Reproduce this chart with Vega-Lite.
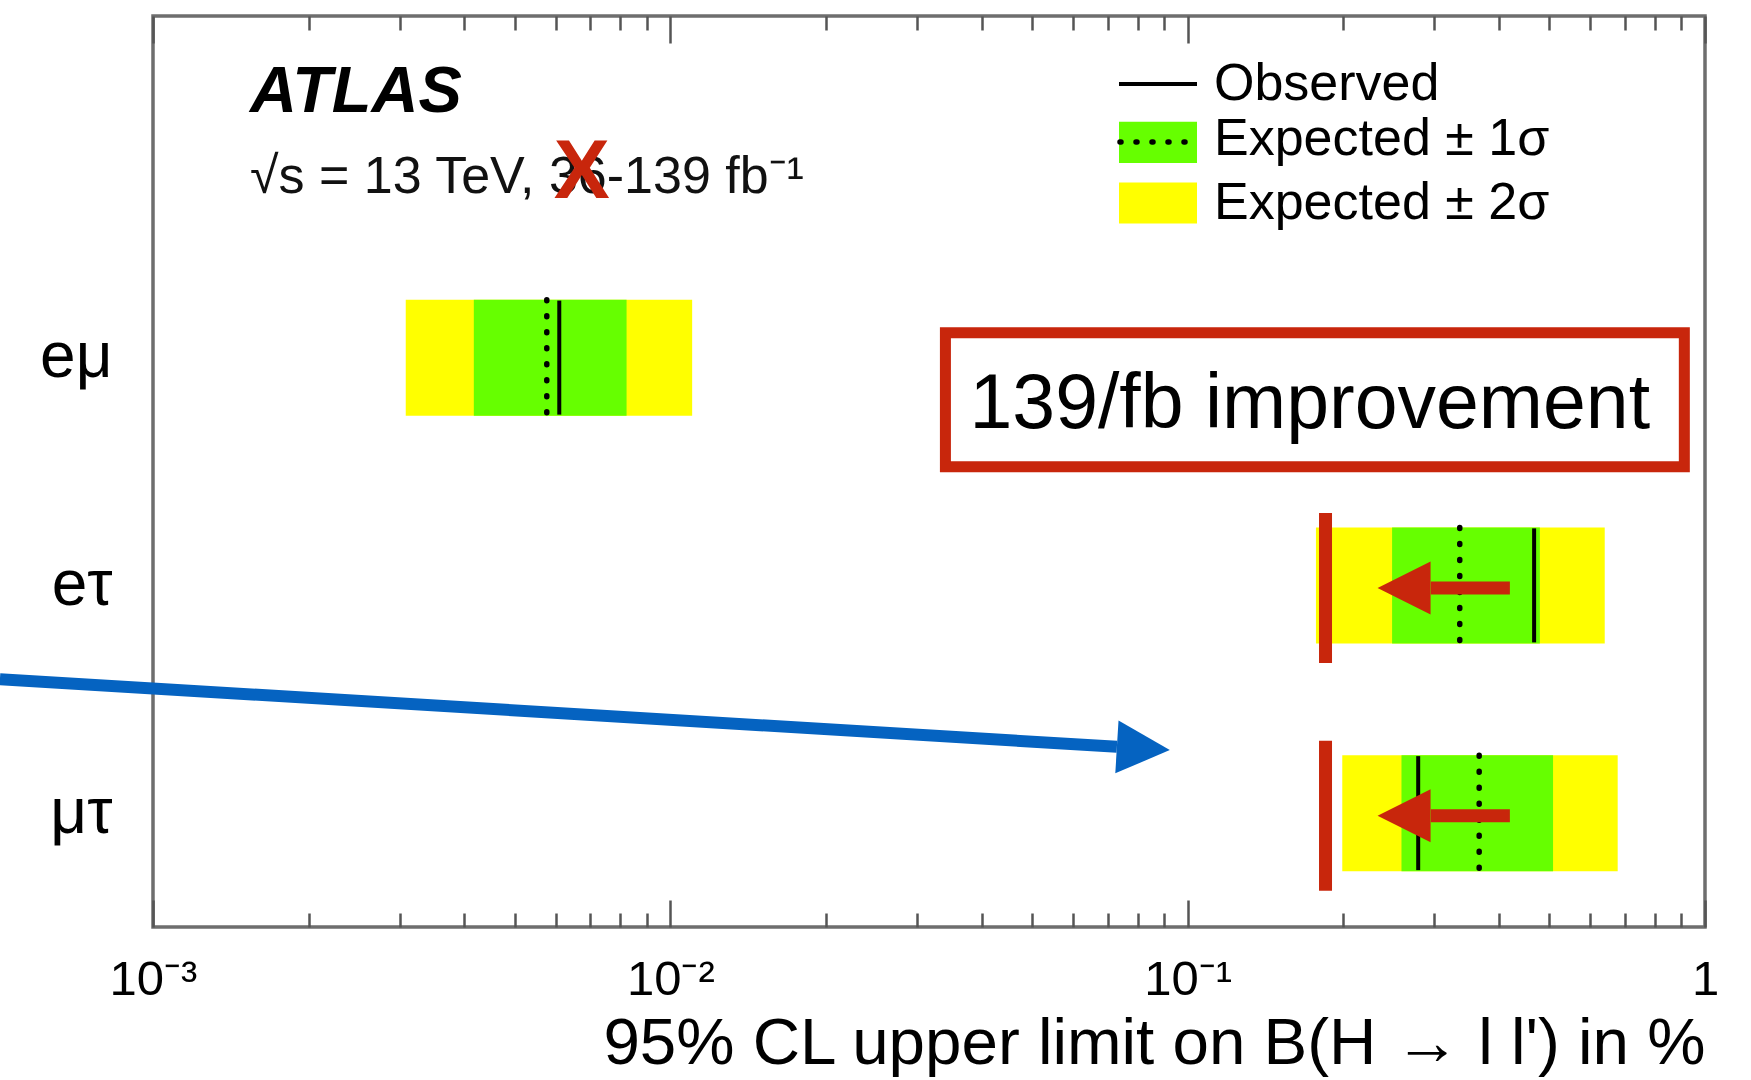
{
  "$schema": "https://vega.github.io/schema/vega-lite/v6.json",
  "width": 1552,
  "height": 911,
  "autosize": {"type": "none"},
  "padding": {"left": 153, "top": 16, "right": 46, "bottom": 153},
  "background": "white",
  "config": {
    "view": {"stroke": "#6e6e6e", "strokeWidth": 3.5},
    "font": "Liberation Sans",
    "axis": {"grid": false, "domain": false}
  },
  "resolve": {"axis": {"x": "independent", "y": "independent"}},
  "datasets": {
    "limits": [
      {"channel": "eμ", "pos": 2.5, "m2": 0.00308, "m1": 0.00417, "exp": 0.00577, "p1": 0.00823, "p2": 0.01102, "obs": 0.0061},
      {"channel": "eτ", "pos": 1.5, "m2": 0.177, "m1": 0.2484, "exp": 0.3357, "p1": 0.4795, "p2": 0.64, "obs": 0.4674},
      {"channel": "μτ", "pos": 0.5, "m2": 0.199, "m1": 0.259, "exp": 0.366, "p1": 0.5085, "p2": 0.678, "obs": 0.279}
    ],
    "improve": [
      {"channel": "eτ", "pos": 1.5, "projected": 0.1847, "arrowFrom": 0.4196, "arrowTo": 0.2951, "head": 0.262},
      {"channel": "μτ", "pos": 0.5, "projected": 0.1847, "arrowFrom": 0.4196, "arrowTo": 0.2951, "head": 0.262}
    ]
  },
  "layer": [
    {
      "data": {"name": "limits"},
      "mark": {"type": "rect", "yOffset": -58, "y2Offset": 58},
      "encoding": {
        "x": {
          "field": "m2", "type": "quantitative",
          "scale": {"type": "log", "domain": [0.001, 1], "nice": false, "zero": false},
          "axis": {
            "orient": "bottom",
            "values": [0.001,0.002,0.003,0.004,0.005,0.006,0.007,0.008,0.009,0.01,0.02,0.03,0.04,0.05,0.06,0.07,0.08,0.09,0.1,0.2,0.3,0.4,0.5,0.6,0.7,0.8,0.9,1],
            "labelExpr": "datum.value === 0.001 ? '10⁻³' : datum.value === 0.01 ? '10⁻²' : datum.value === 0.1 ? '10⁻¹' : datum.value === 1 ? '1' : ''",
            "labelFlush": false,
            "labelOverlap": false,
            "labelFontSize": 49,
            "labelColor": "black",
            "labelPadding": 55,
            "labelBaseline": "top",
            "tickSize": -27,
            "tickColor": "#555555",
            "tickWidth": 2.5,
            "tickDash": {"condition": {"test": "datum.value === 0.001 || datum.value === 0.01 || datum.value === 0.1 || datum.value === 1", "value": [40, 1]}, "value": [14, 40]},
            "domain": false,
            "grid": false,
            "title": "95% CL upper limit on B(H → l l') in %",
            "titleFontSize": 65.5,
            "titleFontWeight": "normal",
            "titleColor": "black",
            "titleX": 1552,
            "titleY": 136,
            "titleAlign": "right",
            "titleBaseline": "alphabetic",
            "titleAnchor": "end"
          }
        },
        "x2": {"field": "p2"},
        "y": {
          "field": "pos", "type": "quantitative",
          "scale": {"domain": [0, 4], "nice": false, "zero": false},
          "axis": {
            "orient": "left",
            "values": [0.5, 1.5, 2.5],
            "labelExpr": "datum.value > 2 ? 'eμ' : (datum.value > 1 ? 'eτ' : 'μτ')",
            "ticks": false, "domain": false, "grid": false, "title": null,
            "labelFontSize": 64, "labelColor": "black", "labelPadding": 41,
            "labelAlign": "right", "labelBaseline": "middle", "labelOverlap": false, "labelLimit": 0
          }
        },
        "y2": {"field": "pos"},
        "fill": {
          "datum": "Expected ± 2σ", "type": "nominal",
          "scale": {"domain": ["Observed", "Expected ± 1σ", "Expected ± 2σ"], "range": ["#000000", "#66ff00", "#ffff00"]},
          "legend": {
            "orient": "none", "legendX": 979, "legendY": 42, "padding": 0,
            "title": null, "labelFontSize": 52, "labelColor": "black", "labelLimit": 0,
            "labelOffset": 30, "symbolSize": 1600, "rowPadding": 3,
            "encode": {
              "symbols": {
                "update": {
                  "shape": {"signal": "datum.value === 'Observed' ? 'M-1.95,0L1.95,0' : (datum.value === 'Expected ± 1σ' ? 'M-1.95,-0.86L1.95,-0.86L1.95,1.2L-1.95,1.2Z' : 'M-1.95,-1.03L1.95,-1.03L1.95,1.03L-1.95,1.03Z')"},
                  "stroke": {"signal": "datum.value === 'Observed' ? '#000000' : 'transparent'"},
                  "strokeWidth": {"value": 4}
                }
              }
            }
          }
        }
      }
    },
    {
      "data": {"name": "limits"},
      "mark": {"type": "rect", "yOffset": -58, "y2Offset": 58},
      "encoding": {
        "x": {
          "field": "m1", "type": "quantitative",
          "axis": {
            "orient": "top",
            "values": [0.001,0.002,0.003,0.004,0.005,0.006,0.007,0.008,0.009,0.01,0.02,0.03,0.04,0.05,0.06,0.07,0.08,0.09,0.1,0.2,0.3,0.4,0.5,0.6,0.7,0.8,0.9,1],
            "labels": false,
            "tickSize": -27,
            "tickColor": "#555555",
            "tickWidth": 2.5,
            "tickDash": {"condition": {"test": "datum.value === 0.001 || datum.value === 0.01 || datum.value === 0.1 || datum.value === 1", "value": [40, 1]}, "value": [14, 40]},
            "domain": false, "grid": false, "title": null
          }
        },
        "x2": {"field": "p1"},
        "y": {"field": "pos", "type": "quantitative", "axis": null},
        "y2": {"field": "pos"},
        "fill": {"datum": "Expected ± 1σ", "type": "nominal"}
      }
    },
    {
      "data": {"name": "limits"},
      "mark": {"type": "rule", "yOffset": -57, "y2Offset": 57, "strokeWidth": 4, "color": "#000000"},
      "encoding": {
        "x": {"field": "obs", "type": "quantitative", "axis": null},
        "y": {"field": "pos", "type": "quantitative", "axis": null},
        "y2": {"field": "pos"}
      }
    },
    {
      "data": {"name": "limits"},
      "mark": {"type": "rule", "yOffset": -58, "y2Offset": 58, "strokeWidth": 5.5, "color": "#000000", "strokeCap": "round"},
      "encoding": {
        "x": {"field": "exp", "type": "quantitative", "axis": null},
        "y": {"field": "pos", "type": "quantitative", "axis": null},
        "y2": {"field": "pos"},
        "strokeDash": {
          "datum": "Expected ± 1σ", "type": "nominal",
          "scale": {"domain": ["Expected ± 1σ"], "range": [[1, 15]]},
          "legend": {
            "orient": "none", "legendX": 964, "legendY": 84, "padding": 0,
            "title": null, "labelExpr": "''", "labelFontSize": 52,
            "symbolType": "stroke", "symbolSize": 6084, "symbolStrokeWidth": 5.5, "symbolStrokeColor": "#000000",
            "encode": {"symbols": {"update": {"strokeCap": {"value": "round"}}}}
          }
        }
      }
    },
    {
      "data": {"name": "improve"},
      "mark": {"type": "rule", "yOffset": -72.5, "y2Offset": 77.5, "strokeWidth": 13, "color": "#c8260c", "strokeCap": "butt"},
      "encoding": {
        "x": {"field": "projected", "type": "quantitative", "axis": null},
        "y": {"field": "pos", "type": "quantitative", "axis": null},
        "y2": {"field": "pos"}
      }
    },
    {
      "data": {"name": "improve"},
      "mark": {"type": "rule", "yOffset": 2.5, "y2Offset": 2.5, "strokeWidth": 13, "color": "#c8260c", "strokeCap": "butt"},
      "encoding": {
        "x": {"field": "arrowFrom", "type": "quantitative", "axis": null},
        "x2": {"field": "arrowTo"},
        "y": {"field": "pos", "type": "quantitative", "axis": null},
        "y2": {"field": "pos"}
      }
    },
    {
      "data": {"name": "improve"},
      "mark": {"type": "point", "shape": "M-1,0L1,-1L1,1Z", "size": 2809, "filled": true, "opacity": 1, "strokeWidth": 0, "color": "#c8260c", "yOffset": 2.5},
      "encoding": {
        "x": {"field": "head", "type": "quantitative", "axis": null},
        "y": {"field": "pos", "type": "quantitative", "axis": null}
      }
    },
    {
      "data": {"values": [{}]},
      "mark": {"type": "rule", "strokeWidth": 12, "color": "#0563c1", "strokeCap": "butt"},
      "encoding": {
        "x": {"datum": 0.000506, "type": "quantitative", "axis": null},
        "x2": {"datum": 0.07298},
        "y": {"datum": 1.0884, "type": "quantitative", "axis": null},
        "y2": {"datum": 0.791}
      }
    },
    {
      "data": {"values": [{}]},
      "mark": {"type": "point", "shape": "M1,0L-1,-1L-1,1Z", "size": 2809, "angle": 3.5, "filled": true, "opacity": 1, "strokeWidth": 0, "color": "#0563c1"},
      "encoding": {
        "x": {"datum": 0.0821, "type": "quantitative", "axis": null},
        "y": {"datum": 0.7838, "type": "quantitative", "axis": null}
      }
    },
    {
      "data": {"values": [{}]},
      "mark": {"type": "rect", "fill": "white", "stroke": "#c8260c", "strokeWidth": 11},
      "encoding": {
        "x": {"datum": 0.03402, "type": "quantitative", "axis": null},
        "x2": {"datum": 0.9121},
        "y": {"datum": 2.609, "type": "quantitative", "axis": null},
        "y2": {"datum": 2.021}
      }
    },
    {
      "data": {"values": [{}]},
      "mark": {"type": "text", "align": "center", "baseline": "alphabetic", "fontSize": 77, "color": "#000000"},
      "encoding": {
        "x": {"datum": 0.1722, "type": "quantitative", "axis": null},
        "y": {"datum": 2.19, "type": "quantitative", "axis": null},
        "text": {"value": "139/fb improvement"}
      }
    },
    {
      "data": {"values": [{}]},
      "mark": {"type": "text", "align": "left", "baseline": "alphabetic", "fontSize": 65, "fontWeight": "bold", "fontStyle": "italic", "color": "#000000"},
      "encoding": {
        "x": {"datum": 0.00154, "type": "quantitative", "axis": null},
        "y": {"datum": 3.577, "type": "quantitative", "axis": null},
        "text": {"value": "ATLAS"}
      }
    },
    {
      "data": {"values": [{}]},
      "mark": {"type": "text", "align": "left", "baseline": "alphabetic", "fontSize": 52, "color": "#111111"},
      "encoding": {
        "x": {"datum": 0.00154, "type": "quantitative", "axis": null},
        "y": {"datum": 3.221, "type": "quantitative", "axis": null},
        "text": {"value": "√s = 13 TeV, 36-139 fb⁻¹"}
      }
    },
    {
      "data": {"values": [{}]},
      "mark": {"type": "text", "align": "center", "baseline": "alphabetic", "fontSize": 84, "fontWeight": "bold", "color": "#c8260c"},
      "encoding": {
        "x": {"datum": 0.006745, "type": "quantitative", "axis": null},
        "y": {"datum": 3.1995, "type": "quantitative", "axis": null},
        "text": {"value": "X"}
      }
    }
  ]
}
